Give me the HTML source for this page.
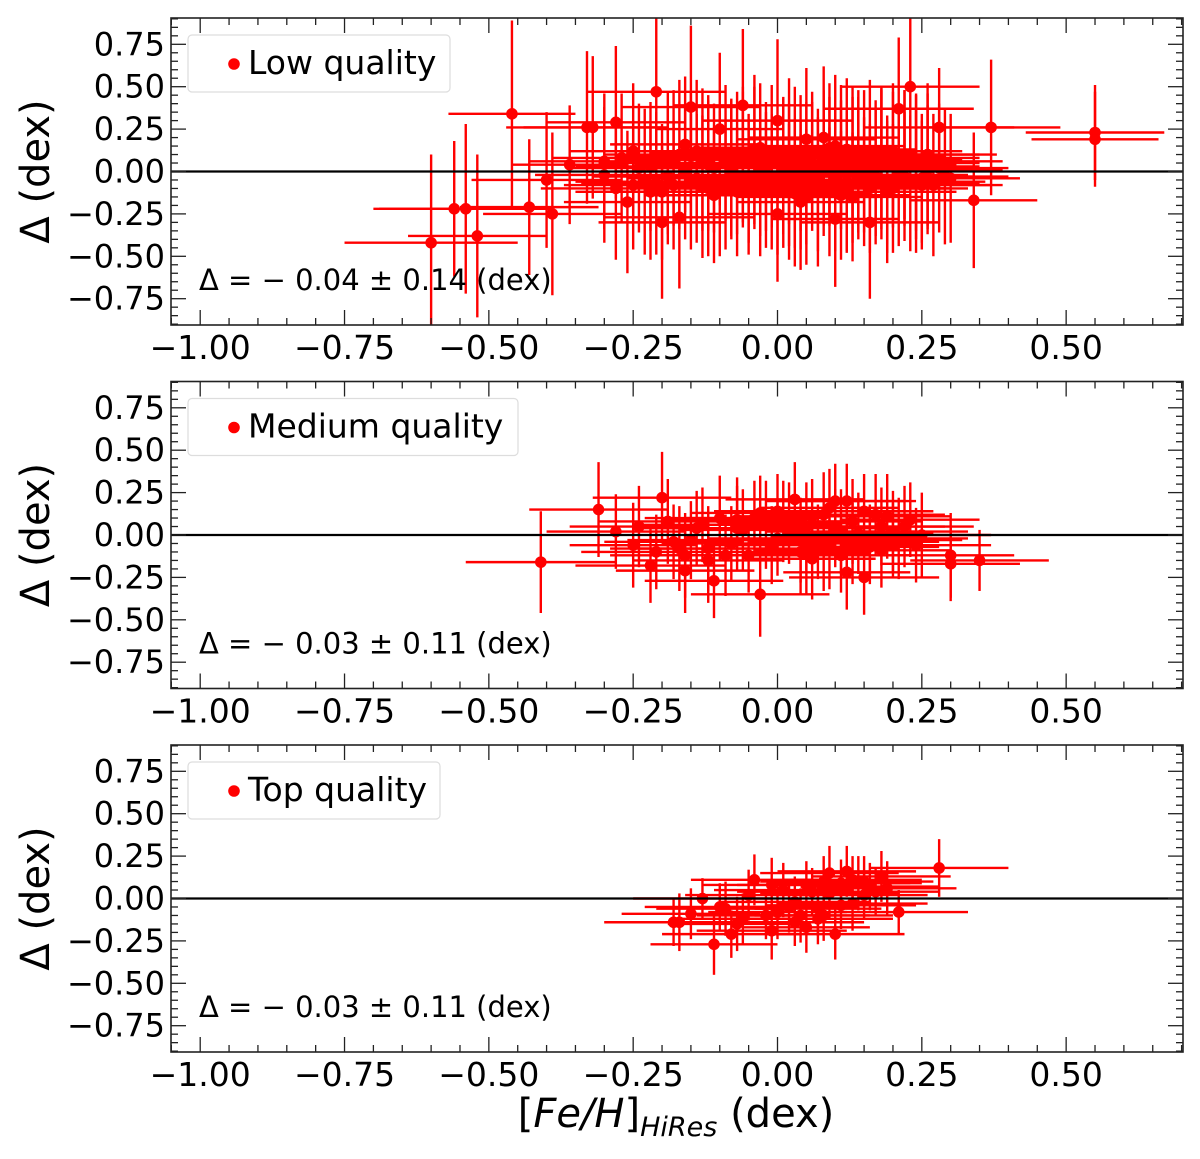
<!DOCTYPE html>
<html><head><meta charset="utf-8"><style>
html,body{margin:0;padding:0;background:#fff;}
svg text{font-family:"DejaVu Sans","Liberation Sans",sans-serif;}
</style></head><body>
<svg id="fig" xmlns="http://www.w3.org/2000/svg" width="1200" height="1154" viewBox="0 0 1200 1154"></svg>
<script>
// ---- data ----
const xTicks = [-1.00,-0.75,-0.50,-0.25,0.00,0.25,0.50];
const yTicks = [-0.75,-0.50,-0.25,0.00,0.25,0.50,0.75];
const panelLabels = ["Low quality","Medium quality","Top quality"];
const panelStats = ["\u0394 = \u2212 0.04 \u00b1 0.14 (dex)","\u0394 = \u2212 0.03 \u00b1 0.11 (dex)","\u0394 = \u2212 0.03 \u00b1 0.11 (dex)"];

const x1 = [-0.60,-0.56,-0.54,-0.52,-0.46,-0.43,-0.40,-0.39,-0.36,-0.33,-0.32,-0.30,-0.28,-0.26,-0.25,-0.22,-0.21,-0.20,-0.18,-0.17,-0.15,-0.15,-0.14,-0.12,-0.11,-0.10,-0.09,-0.08,-0.07,-0.06,-0.06,-0.05,-0.04,-0.03,-0.02,-0.01,0.00,0.00,0.01,0.02,0.03,0.04,0.05,0.05,0.06,0.07,0.08,0.09,0.10,0.10,0.11,0.12,0.13,0.14,0.15,0.16,0.16,0.17,0.18,0.19,0.20,0.21,0.22,0.23,0.24,0.25,0.26,0.28,0.30,0.34,0.37,0.55,0.55,-0.24,-0.19,-0.13,-0.03,0.02,0.08,0.13,0.18,0.24,-0.16,-0.08,0.04,0.12,0.20,
 -0.30,-0.28,-0.27,-0.25,-0.23,-0.22,-0.20,-0.19,-0.18,-0.17,-0.16,-0.14,-0.13,-0.12,-0.11,-0.10,-0.09,-0.08,-0.07,-0.05,-0.04,-0.03,-0.02,-0.01,0.00,0.01,0.02,0.03,0.04,0.05,0.06,0.07,0.08,0.09,0.10,0.11,0.12,0.13,0.14,0.15,0.16,0.17,0.18,0.19,0.20,0.21,0.22,0.23,0.24,0.25,0.26,0.27,0.28,0.29,-0.21,-0.15,-0.06,0.03,0.09,0.14,0.19,0.26,-0.12,0.01,0.11,0.22];
const y1 = [-0.42,-0.22,-0.22,-0.38,0.34,-0.21,-0.05,-0.25,0.04,0.26,0.26,0.06,0.29,-0.18,-0.08,-0.12,0.47,-0.30,0.08,-0.27,0.38,-0.06,0.12,0.04,-0.14,0.25,-0.08,0.02,-0.12,0.39,0.10,-0.04,0.08,-0.10,0.03,-0.06,0.30,-0.25,0.06,-0.02,0.10,-0.08,0.19,-0.15,0.03,-0.05,0.08,-0.12,0.15,-0.28,0.04,-0.06,0.10,-0.02,0.06,-0.30,-0.10,0.02,0.08,-0.05,0.12,0.37,-0.03,0.50,0.05,-0.08,0.10,0.26,-0.04,-0.17,0.26,0.23,0.19,0.02,-0.03,-0.09,0.14,-0.12,0.20,-0.15,0.09,-0.06,0.16,0.05,-0.18,0.13,-0.10,
 -0.02,-0.10,0.08,0.12,-0.06,0.03,-0.12,0.05,-0.08,0.10,0.00,-0.04,0.07,-0.10,0.02,-0.07,0.11,-0.02,0.05,-0.09,0.13,0.00,-0.05,0.09,-0.11,0.03,0.12,-0.07,0.05,-0.01,0.09,-0.12,0.02,0.06,-0.05,0.11,-0.09,0.01,0.08,-0.06,0.12,-0.03,0.04,-0.10,0.07,-0.02,0.10,-0.07,0.03,-0.04,0.06,-0.08,0.02,-0.03,-0.07,0.09,0.07,-0.13,0.14,0.04,-0.12,0.01,0.05,-0.03,-0.14,0.08];
const xe1 = [0.15,0.14,0.15,0.12,0.11,0.12,0.13,0.12,0.10,0.14,0.12,0.13,0.12,0.11,0.12,0.13,0.12,0.11,0.12,0.13,0.12,0.11,0.13,0.12,0.12,0.11,0.12,0.13,0.12,0.12,0.12,0.11,0.12,0.13,0.12,0.12,0.13,0.12,0.11,0.12,0.12,0.13,0.12,0.12,0.11,0.12,0.12,0.13,0.12,0.11,0.12,0.13,0.12,0.12,0.11,0.12,0.13,0.12,0.12,0.11,0.12,0.13,0.12,0.12,0.11,0.12,0.12,0.13,0.12,0.11,0.12,0.12,0.11,0.12,0.13,0.12,0.11,0.12,0.13,0.12,0.11,0.12,0.13,0.12,0.11,0.12,0.13,
 0.12,0.13,0.12,0.11,0.12,0.13,0.12,0.12,0.11,0.13,0.12,0.12,0.13,0.11,0.12,0.12,0.13,0.12,0.11,0.12,0.13,0.12,0.12,0.11,0.13,0.12,0.12,0.13,0.11,0.12,0.12,0.13,0.12,0.11,0.12,0.13,0.12,0.12,0.11,0.13,0.12,0.12,0.13,0.11,0.12,0.12,0.13,0.12,0.11,0.12,0.13,0.12,0.12,0.11,0.13,0.12,0.12,0.13,0.11,0.12,0.12,0.13,0.12,0.11,0.12,0.13];
const ye1 = [0.52,0.40,0.50,0.48,0.55,0.40,0.40,0.48,0.35,0.45,0.42,0.40,0.45,0.42,0.38,0.40,0.50,0.45,0.40,0.42,0.48,0.40,0.42,0.38,0.40,0.45,0.38,0.40,0.38,0.45,0.40,0.38,0.42,0.40,0.38,0.40,0.48,0.40,0.38,0.42,0.40,0.38,0.42,0.40,0.38,0.42,0.40,0.38,0.42,0.40,0.38,0.42,0.40,0.38,0.42,0.45,0.38,0.40,0.42,0.38,0.40,0.42,0.38,0.45,0.40,0.38,0.42,0.35,0.38,0.40,0.40,0.28,0.28,0.38,0.40,0.42,0.38,0.40,0.42,0.38,0.40,0.42,0.40,0.38,0.40,0.42,0.38,
 0.40,0.42,0.38,0.40,0.43,0.38,0.40,0.42,0.38,0.44,0.40,0.38,0.42,0.40,0.38,0.43,0.40,0.38,0.42,0.40,0.44,0.38,0.40,0.42,0.38,0.40,0.43,0.38,0.40,0.42,0.38,0.44,0.40,0.38,0.42,0.40,0.38,0.43,0.40,0.38,0.42,0.40,0.44,0.38,0.40,0.42,0.38,0.40,0.43,0.38,0.40,0.42,0.38,0.40,0.42,0.38,0.40,0.43,0.38,0.40,0.42,0.38,0.40,0.42,0.38,0.40];

const x2 = [-0.41,-0.31,-0.28,-0.25,-0.20,-0.18,-0.16,-0.16,-0.14,-0.12,-0.11,-0.10,-0.08,-0.06,-0.05,-0.03,-0.02,0.00,0.01,0.03,0.04,0.05,0.07,0.08,0.09,0.10,0.11,0.12,0.12,0.13,0.15,0.15,0.17,0.19,0.20,0.22,0.24,0.25,0.30,0.30,0.35,-0.22,-0.07,0.06,0.18,
 -0.24,-0.21,-0.19,-0.15,-0.13,-0.09,-0.07,-0.04,-0.01,0.02,0.04,0.06,0.08,0.10,0.11,0.13,0.14,0.16,0.18,0.21,0.23,-0.12,-0.03,0.05,0.09,0.16,0.20,-0.17,0.00,0.12];
const y2 = [-0.16,0.15,0.02,-0.06,0.22,-0.04,-0.12,-0.21,0.04,-0.08,-0.27,0.10,-0.05,0.03,-0.12,-0.35,0.06,-0.02,0.08,0.21,-0.10,0.05,-0.04,0.12,-0.08,0.20,0.02,0.20,-0.22,-0.05,0.14,-0.25,0.12,0.11,-0.03,0.05,-0.06,0.00,-0.12,-0.17,-0.15,-0.18,0.09,-0.14,-0.09,
 0.05,-0.10,0.08,-0.03,0.06,-0.12,0.04,0.10,-0.06,0.07,-0.03,0.11,-0.09,0.04,-0.12,0.08,0.01,-0.07,0.05,-0.02,0.09,-0.15,0.13,-0.11,0.16,-0.04,0.02,-0.08,0.14,-0.01];
const xe2 = [0.13,0.12,0.12,0.11,0.12,0.12,0.13,0.12,0.11,0.12,0.12,0.13,0.12,0.11,0.12,0.12,0.13,0.12,0.11,0.12,0.12,0.13,0.12,0.11,0.12,0.12,0.13,0.12,0.11,0.12,0.12,0.13,0.12,0.11,0.12,0.12,0.13,0.12,0.11,0.12,0.12,0.13,0.12,0.11,0.12,
 0.12,0.13,0.12,0.11,0.12,0.12,0.13,0.12,0.11,0.12,0.12,0.13,0.12,0.11,0.12,0.12,0.13,0.12,0.11,0.12,0.12,0.13,0.12,0.11,0.12,0.12,0.13,0.12,0.11,0.12];
const ye2 = [0.30,0.28,0.22,0.25,0.27,0.22,0.25,0.25,0.22,0.25,0.22,0.25,0.22,0.24,0.22,0.25,0.26,0.22,0.24,0.22,0.25,0.26,0.22,0.25,0.24,0.22,0.25,0.22,0.22,0.24,0.22,0.22,0.24,0.25,0.22,0.24,0.22,0.25,0.25,0.22,0.18,0.22,0.25,0.24,0.22,
 0.24,0.22,0.25,0.23,0.22,0.24,0.25,0.22,0.23,0.24,0.25,0.22,0.24,0.23,0.22,0.25,0.24,0.22,0.23,0.24,0.22,0.25,0.22,0.24,0.23,0.22,0.24,0.25,0.22,0.24];

const x3 = [0.28,0.12,0.09,-0.04,-0.01,-0.13,-0.18,-0.17,-0.11,-0.08,0.10,0.21,-0.01,0.05,0.16,0.02,0.04,0.06,0.08,0.13,0.00,-0.06,0.11,0.14,0.18,0.03,-0.09,0.07,0.15,
 -0.15,-0.10,-0.07,-0.05,-0.02,0.01,0.03,0.05,0.07,0.09,0.11,0.13,0.15,0.17,0.19,0.08];
const y3 = [0.18,0.16,0.15,0.11,0.08,0.00,-0.14,-0.14,-0.27,-0.21,-0.21,-0.08,-0.19,-0.17,0.07,-0.05,-0.10,0.04,0.10,0.11,-0.08,-0.12,-0.04,0.09,0.13,-0.14,-0.06,-0.12,0.02,
 -0.09,-0.05,-0.15,0.02,-0.10,0.05,-0.02,0.08,-0.06,0.03,0.09,-0.03,0.10,0.04,0.06,-0.10];
const xe3 = [0.12,0.12,0.12,0.11,0.12,0.12,0.12,0.13,0.11,0.12,0.12,0.12,0.13,0.11,0.12,0.12,0.12,0.13,0.11,0.12,0.12,0.12,0.13,0.11,0.12,0.12,0.12,0.13,0.11,
 0.12,0.13,0.12,0.11,0.12,0.12,0.13,0.12,0.11,0.12,0.12,0.13,0.12,0.11,0.12,0.12];
const ye3 = [0.17,0.15,0.16,0.15,0.16,0.12,0.14,0.17,0.18,0.14,0.15,0.13,0.17,0.15,0.14,0.15,0.16,0.14,0.15,0.14,0.16,0.15,0.14,0.16,0.15,0.14,0.16,0.15,0.14,
 0.15,0.14,0.16,0.15,0.14,0.16,0.15,0.14,0.16,0.15,0.14,0.16,0.15,0.14,0.16,0.15];

const series = [[x1,y1,xe1,ye1],[x2,y2,xe2,ye2],[x3,y3,xe3,ye3]];
const legendW = [262,330,252];

// ---- layout ----
const NS="http://www.w3.org/2000/svg";
const svg=document.getElementById('fig');
const L=171, R=1183, X0=777.5, XS=577.3, YS=169.6;
const panelTop=[18,381.5,745], panelH=307, panelZero=[171.5,535,898.5];
function mk(tag, attrs, parent){const e=document.createElementNS(NS,tag);for(const k in attrs)e.setAttribute(k,attrs[k]);(parent||svg).appendChild(e);return e;}
const xs = v => X0 + XS*v;

for(let p=0;p<3;p++){
  const T=panelTop[p], B=T+panelH, Z=panelZero[p];
  const ys = v => Z - YS*v;
  const g=mk('g',{});
  
  
  const clipId='clip'+p;
  const cp=mk('clipPath',{id:clipId},g); mk('rect',{x:L,y:T,width:R-L,height:panelH},cp);
  const marks=mk('g',{'clip-path':'url(#'+clipId+')'},g);
  
  
  const [xa,ya,xea,yea]=series[p];
  for(let i=0;i<xa.length;i++){
    const cx=xs(xa[i]), cy=ys(ya[i]);
    const eb=mk('g',{stroke:'#ff0000','stroke-width':2.4},marks);
    
    
    mk('line',{x1:xs(xa[i]-xea[i]),x2:xs(xa[i]+xea[i]),y1:cy,y2:cy},eb);
    mk('line',{x1:cx,x2:cx,y1:ys(ya[i]-yea[i]),y2:ys(ya[i]+yea[i])},eb);
  }
  for(let i=0;i<xa.length;i++){
    const c=mk('circle',{cx:xs(xa[i]),cy:ys(ya[i]),r:5.8,fill:'#ff0000'},marks);
    
    
  }
  const zl=mk('line',{x1:L,x2:R,y1:ys(0),y2:ys(0),stroke:'#000','stroke-width':2.2},g);
  
  
  for(let k=-21;k<=14;k++){ const v=k*0.05, x=xs(v); if(x<L||x>R) continue;
    const major=(k%5===0), len=major?15:7;
    mk('line',{x1:x,x2:x,y1:B,y2:B-len,stroke:'#222','stroke-width':1.3},g);
    mk('line',{x1:x,x2:x,y1:T,y2:T+len,stroke:'#222','stroke-width':1.3},g);
  }
  for(let k=-18;k<=18;k++){ const v=k*0.05, y=ys(v); if(y<T||y>B) continue;
    const major=(k%5===0), len=major?15:7;
    mk('line',{x1:L,x2:L+len,y1:y,y2:y,stroke:'#222','stroke-width':1.3},g);
    mk('line',{x1:R,x2:R-len,y1:y,y2:y,stroke:'#222','stroke-width':1.3},g);
  }
  const fr=mk('rect',{x:L,y:T,width:R-L,height:panelH,fill:'none',stroke:'#222','stroke-width':1.6},g);
  
  
  xTicks.forEach(v=>{const t=mk('text',{x:xs(v),y:B+34,'text-anchor':'middle','font-size':33,fill:'#000'},g);t.textContent=(v<0?'\u2212':'')+Math.abs(v).toFixed(2);
    
    });
  yTicks.forEach(v=>{const t=mk('text',{x:L-6,y:ys(v)+11,'text-anchor':'end','font-size':32,fill:'#000'},g);t.textContent=(v<0?'\u2212':'')+Math.abs(v).toFixed(2);
    
    });
  const yl=mk('text',{x:0,y:0,transform:'translate(49,'+(T+panelH/2)+') rotate(-90)','text-anchor':'middle','font-size':40,fill:'#000'},g);
  yl.textContent='\u0394 (dex)';
  
  
  const lg=mk('g',{},g);
  
  
  mk('rect',{x:188,y:T+17,width:legendW[p],height:57,rx:4,fill:'#fff',stroke:'#ddd','stroke-width':1.2},lg);
  mk('circle',{cx:234,cy:T+46,r:5.8,fill:'#ff0000'},lg);
  const lt=mk('text',{x:248,y:T+56,'font-size':33,fill:'#000'},lg); lt.textContent=panelLabels[p];
  
  
  const st=mk('text',{x:199,y:T+272,'font-size':29,fill:'#000'},g); st.textContent=panelStats[p];
  
  
}
const xl=mk('text',{x:676,y:1127,'text-anchor':'middle','font-size':40,fill:'#000'});


xl.innerHTML='[<tspan font-style="italic">Fe/H</tspan>]<tspan font-style="italic" font-size="27" dy="9">HiRes</tspan><tspan dy="-9"> (dex)</tspan>';
</script>
</body></html>
